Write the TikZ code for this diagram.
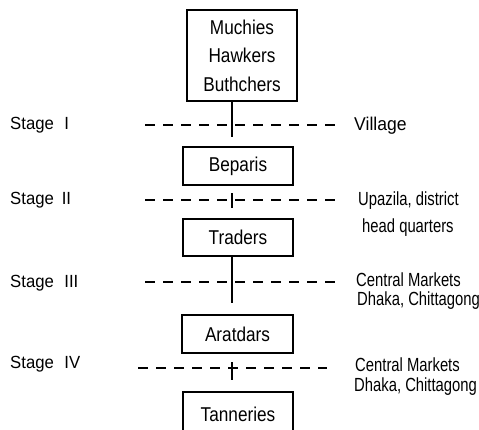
\documentclass[tikz,border=0pt]{standalone}
\usepackage{fontspec}
\setmainfont{Liberation Sans}
\newfontfamily\stagefont[FakeStretch=0.95]{Liberation Sans}
\newfontfamily\boxfont[FakeStretch=0.86]{Liberation Sans}
\newfontfamily\narrowfont[FakeStretch=0.78]{Liberation Sans}
\newfontfamily\villagefont[FakeStretch=0.95]{Liberation Sans}
\begin{document}
\begin{tikzpicture}[x=1pt,y=-1pt,
  stagebox/.style={draw,line width=1.3pt,inner sep=0pt,minimum width=110pt,
    font=\boxfont\fontsize{20}{28.5}\selectfont,align=center},
  stagelbl/.style={anchor=base west,inner sep=0pt,font=\stagefont\fontsize{17.6}{20}\selectfont},
  placelbl/.style={anchor=base west,inner sep=0pt,font=\narrowfont\fontsize{19}{20}\selectfont},
  sep/.style={line width=2pt,dash pattern=on 10pt off 8pt},
  conn/.style={line width=1.2pt}]
\useasboundingbox (0,0) rectangle (479,429);
\clip (0,0) rectangle (479,429);
\fill[white] (0,0) rectangle (479,429);

% boxes
\node[stagebox,minimum height=91pt] (top) at (242,55.5) {Muchies\\Hawkers\\Buthchers};
\node[stagebox,minimum height=38pt] (bep) at (238,166) {Beparis};
\node[stagebox,minimum height=37pt] (trad) at (238,237.5) {Traders};
\node[stagebox,minimum height=38pt,minimum width=111pt] (arat) at (237.5,334) {Aratdars};
\node[stagebox,minimum height=44pt,minimum width=110pt] (tann) at (238,414) {Tanneries};

% stage labels
\node[stagelbl] (s1) at (10,129) {Stage\hspace{0.6em}I};
\node[stagelbl] (s2) at (10,204) {Stage\hspace{0.45em}II};
\node[stagelbl] (s3) at (10,287) {Stage\hspace{0.6em}III};
\node[stagelbl] (s4) at (10,368) {Stage\hspace{0.6em}IV};

% place labels
\node[placelbl,font=\villagefont\fontsize{18.5}{20}\selectfont] (p1) at (354,130) {Village};
\node[placelbl] (p2a) at (358,205) {Upazila, district};
\node[placelbl] (p2b) at (362,232) {head quarters};
\node[placelbl] (p3a) at (356,286) {Central Markets};
\node[placelbl] (p3b) at (357,305) {Dhaka, Chittagong};
\node[placelbl] (p4a) at (355,371) {Central Markets};
\node[placelbl] (p4b) at (354,391) {Dhaka, Chittagong};

% dashed separators
\coordinate (d1a) at (145,125); \coordinate (d1b) at (335,125);
\coordinate (d2a) at (145,200); \coordinate (d2b) at (335,200);
\coordinate (d3a) at (145,282); \coordinate (d3b) at (335,282);
\coordinate (d4a) at (138,368); \coordinate (d4b) at (327,368);
\draw[sep] (d1a) -- (d1b);
\draw[sep] (d2a) -- (d2b);
\draw[sep] (d3a) -- (d3b);
\draw[sep] (d4a) -- (d4b);

% vertical connectors
\coordinate (v1e) at (232,137);
\draw[conn] (v1e |- top.south) -- (v1e);
\coordinate (v2s) at (232,193); \coordinate (v2e) at (232,208);
\draw[conn] (v2s) -- (v2e);
\coordinate (v3e) at (232,303);
\draw[conn] (v3e |- trad.south) -- (v3e);
\coordinate (v4s) at (232,362); \coordinate (v4e) at (232,380);
\draw[conn] (v4s) -- (v4e);
\end{tikzpicture}
\end{document}
